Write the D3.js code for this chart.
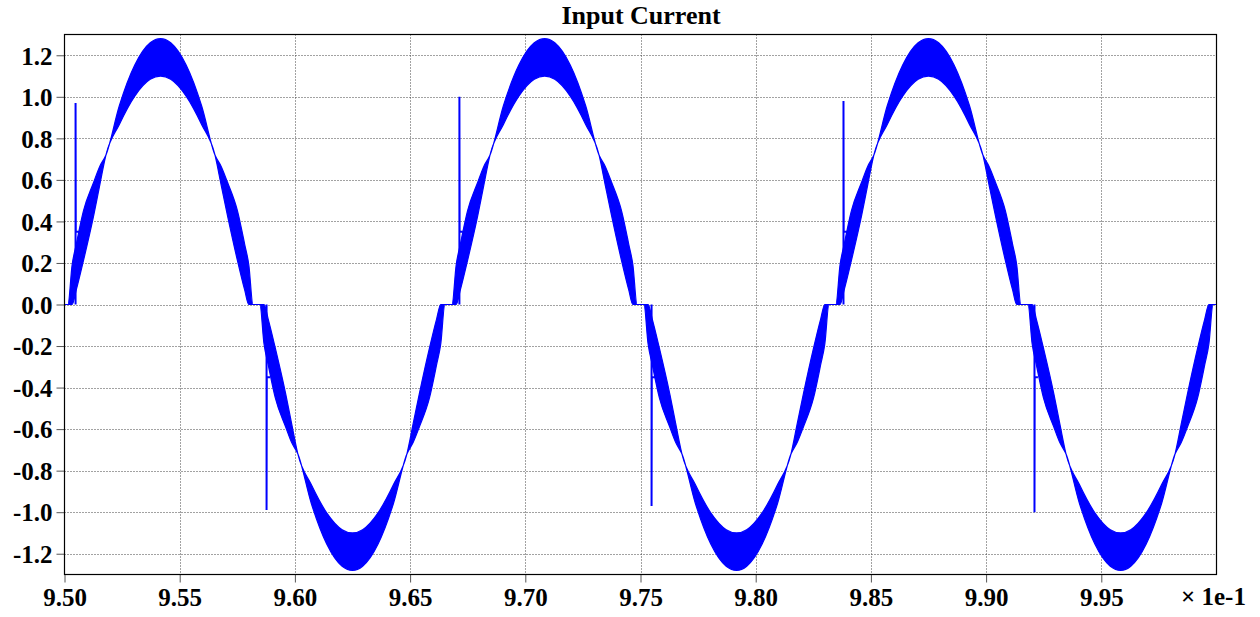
<!DOCTYPE html>
<html>
<head>
<meta charset="utf-8">
<script src="https://cdn.jsdelivr.net/npm/d3@7"></script>
<style>
  body { margin: 0; background: #fff; }
  text { font-family: "Liberation Serif", "Times New Roman", serif; font-weight: bold; fill: #000; }
</style>
</head>
<body>
<div id="chart-area"></div>
<script>
// time axis values (x 1e-1 s), one row per half cycle
const time = [
  9.5000,
  9.5015, 9.5033, 9.5051, 9.5082, 9.5127, 9.5153, 9.5180, 9.5238, 9.5305, 9.5372, 9.5417, 9.5461, 9.5528, 9.5595, 9.5653, 9.5680, 9.5707, 9.5751, 9.5782, 9.5800, 9.5818,
  9.5848, 9.5866, 9.5884, 9.5915, 9.5960, 9.5986, 9.6013, 9.6071, 9.6138, 9.6205, 9.6250, 9.6294, 9.6361, 9.6428, 9.6486, 9.6513, 9.6540, 9.6584, 9.6615, 9.6633, 9.6651,
  9.6682, 9.6700, 9.6718, 9.6749, 9.6794, 9.6820, 9.6847, 9.6905, 9.6972, 9.7039, 9.7084, 9.7128, 9.7195, 9.7262, 9.7320, 9.7347, 9.7374, 9.7418, 9.7449, 9.7467, 9.7485,
  9.7515, 9.7533, 9.7551, 9.7582, 9.7627, 9.7653, 9.7680, 9.7738, 9.7805, 9.7872, 9.7917, 9.7961, 9.8028, 9.8095, 9.8153, 9.8180, 9.8207, 9.8251, 9.8282, 9.8300, 9.8318,
  9.8348, 9.8366, 9.8384, 9.8415, 9.8460, 9.8486, 9.8513, 9.8571, 9.8638, 9.8705, 9.8750, 9.8794, 9.8861, 9.8928, 9.8986, 9.9013, 9.9040, 9.9084, 9.9115, 9.9133, 9.9151,
  9.9182, 9.9200, 9.9218, 9.9249, 9.9294, 9.9320, 9.9347, 9.9405, 9.9472, 9.9539, 9.9584, 9.9628, 9.9695, 9.9762, 9.9820, 9.9847, 9.9874, 9.9918, 9.9949, 9.9967, 9.9985,
  10.0000
];

// upper edge of the ripple band
const upper = [
  0,
  0, 0.19, 0.29, 0.45, 0.59, 0.665, 0.72, 0.957, 1.153, 1.260, 1.280, 1.260, 1.153, 0.957, 0.72, 0.665, 0.59, 0.45, 0.29, 0.19, 0,
  0, 0, -0.07, -0.21, -0.43, -0.575, -0.72, -0.867, -1.003, -1.084, -1.100, -1.084, -1.003, -0.867, -0.72, -0.575, -0.43, -0.21, -0.07, 0, 0,
  0, 0.19, 0.29, 0.45, 0.59, 0.665, 0.72, 0.957, 1.153, 1.260, 1.280, 1.260, 1.153, 0.957, 0.72, 0.665, 0.59, 0.45, 0.29, 0.19, 0,
  0, 0, -0.07, -0.21, -0.43, -0.575, -0.72, -0.867, -1.003, -1.084, -1.100, -1.084, -1.003, -0.867, -0.72, -0.575, -0.43, -0.21, -0.07, 0, 0,
  0, 0.19, 0.29, 0.45, 0.59, 0.665, 0.72, 0.957, 1.153, 1.260, 1.280, 1.260, 1.153, 0.957, 0.72, 0.665, 0.59, 0.45, 0.29, 0.19, 0,
  0, 0, -0.07, -0.21, -0.43, -0.575, -0.72, -0.867, -1.003, -1.084, -1.100, -1.084, -1.003, -0.867, -0.72, -0.575, -0.43, -0.21, -0.07, 0, 0,
  0
];

// lower edge of the ripple band
const lower = [
  0,
  0, 0, 0.07, 0.21, 0.43, 0.575, 0.72, 0.867, 1.003, 1.084, 1.100, 1.084, 1.003, 0.867, 0.72, 0.575, 0.43, 0.21, 0.07, 0, 0,
  0, -0.19, -0.29, -0.45, -0.59, -0.665, -0.72, -0.957, -1.153, -1.260, -1.280, -1.260, -1.153, -0.957, -0.72, -0.665, -0.59, -0.45, -0.29, -0.19, 0,
  0, 0, 0.07, 0.21, 0.43, 0.575, 0.72, 0.867, 1.003, 1.084, 1.100, 1.084, 1.003, 0.867, 0.72, 0.575, 0.43, 0.21, 0.07, 0, 0,
  0, -0.19, -0.29, -0.45, -0.59, -0.665, -0.72, -0.957, -1.153, -1.260, -1.280, -1.260, -1.153, -0.957, -0.72, -0.665, -0.59, -0.45, -0.29, -0.19, 0,
  0, 0, 0.07, 0.21, 0.43, 0.575, 0.72, 0.867, 1.003, 1.084, 1.100, 1.084, 1.003, 0.867, 0.72, 0.575, 0.43, 0.21, 0.07, 0, 0,
  0, -0.19, -0.29, -0.45, -0.59, -0.665, -0.72, -0.957, -1.153, -1.260, -1.280, -1.260, -1.153, -0.957, -0.72, -0.665, -0.59, -0.45, -0.29, -0.19, 0,
  0
];

// switching spikes right after each zero crossing
const spikeTime  = [9.5048, 9.5877, 9.6714, 9.7548, 9.8381, 9.9210];
const spikePeak  = [0.97, -0.99, 1.00, -0.97, 0.98, -1.00];
const spikeNotch = [0.35, -0.35, 0.35, -0.35, 0.35, -0.35];
const notchEnd   = [9.5063, 9.5892, 9.6729, 9.7563, 9.8396, 9.9225];

const xTicks = [9.50, 9.55, 9.60, 9.65, 9.70, 9.75, 9.80, 9.85, 9.90, 9.95];
const yTicks = [-1.2, -1.0, -0.8, -0.6, -0.4, -0.2, 0.0, 0.2, 0.4, 0.6, 0.8, 1.0, 1.2];

const W = 1260, H = 617;
const plot = { left: 64.5, right: 1216.5, top: 34.5, bottom: 574.5 };

const svg = d3.select("#chart-area").append("svg")
    .attr("width", W)
    .attr("height", H);

const x = d3.scaleLinear().domain([9.5, 10.0]).range([plot.left, plot.right]);
const y = d3.scaleLinear().domain([-1.3, 1.3]).range([plot.bottom, plot.top]);

// title
svg.append("text")
    .attr("x", 641)
    .attr("y", 24)
    .attr("text-anchor", "middle")
    .style("font-size", "26px")
    .text("Input Current");

// dotted grid
const grid = svg.append("g").attr("class", "grid")
    .attr("stroke", "#444")
    .attr("stroke-width", 1)
    .attr("stroke-dasharray", "1,2");

grid.selectAll("line.h")
    .data(yTicks)
    .enter().append("line")
    .attr("x1", plot.left).attr("x2", plot.right)
    .attr("y1", d => Math.round(y(d)) + 0.5)
    .attr("y2", d => Math.round(y(d)) + 0.5);

grid.selectAll("line.v")
    .data(xTicks.slice(1))
    .enter().append("line")
    .attr("y1", plot.top).attr("y2", plot.bottom)
    .attr("x1", d => Math.round(x(d)) + 0.5)
    .attr("x2", d => Math.round(x(d)) + 0.5);

// signal band
const pts = time.map((t, i) => ({ t: t, hi: upper[i], lo: lower[i] }));

const area = d3.area()
    .curve(d3.curveMonotoneX)
    .x(d => x(d.t))
    .y0(d => y(d.lo))
    .y1(d => y(d.hi));

svg.append("path")
    .datum(pts)
    .attr("d", area)
    .attr("fill", "#0000ff")
    .attr("stroke", "#0000ff")
    .attr("stroke-width", 1.2)
    .attr("stroke-linejoin", "round");

// spikes
const spikeLine = d3.line().x(d => x(d[0])).y(d => y(d[1]));

svg.selectAll("path.spike")
    .data(spikeTime)
    .enter().append("path")
    .attr("class", "spike")
    .attr("d", (t, i) => spikeLine([
        [t, 0],
        [t, spikePeak[i]],
        [t + 0.0001, spikeNotch[i]],
        [notchEnd[i], spikeNotch[i]]
    ]))
    .attr("fill", "none")
    .attr("stroke", "#0000ff")
    .attr("stroke-width", 2);

// axes
const xAxis = svg.append("g")
    .attr("transform", `translate(0, ${plot.bottom})`)
    .call(d3.axisBottom(x).tickValues(xTicks).tickSize(8).tickFormat(d => d.toFixed(2)));

const yAxis = svg.append("g")
    .attr("transform", `translate(${plot.left}, 0)`)
    .call(d3.axisLeft(y).tickValues(yTicks).tickSize(8).tickFormat(d => d.toFixed(1)));

[xAxis, yAxis].forEach(a => {
    a.attr("font-family", null).attr("font-size", null);
    a.select(".domain").remove();
    a.selectAll(".tick line").attr("stroke", "#555");
    a.selectAll(".tick text")
        .style("font-size", "25px")
        .style("font-family", "'Liberation Serif', serif")
        .style("font-weight", "bold")
        .attr("fill", "#000");
});

xAxis.selectAll(".tick text").attr("y", 31).attr("dy", 0);
yAxis.selectAll(".tick text").attr("x", -12).attr("dy", "0.35em");

// frame
svg.append("rect")
    .attr("x", plot.left).attr("y", plot.top)
    .attr("width", plot.right - plot.left).attr("height", plot.bottom - plot.top)
    .attr("fill", "none")
    .attr("stroke", "#000")
    .attr("stroke-width", 1.2);

// axis multiplier
svg.append("text")
    .attr("x", 1181)
    .attr("y", 605)
    .style("font-size", "25px")
    .text("\u00d7 1e-1");
</script>
</body>
</html>
